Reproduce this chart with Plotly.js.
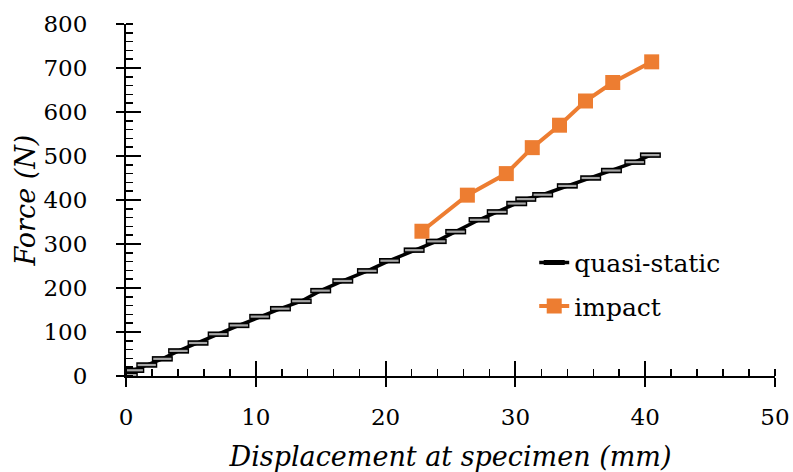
<!DOCTYPE html>
<html>
<head>
<meta charset="utf-8">
<script src="https://cdn.plot.ly/plotly-3.0.1.min.js"></script>
<style>html,body{margin:0;padding:0;background:#fff;}#chart{width:793px;height:472px;}</style>
</head>
<body>
<div id="chart"></div>
<script>
// Quasi-static test: displacement (mm) and force (N)
const quasiX = [0.1, 0.6, 1.6, 2.8, 4.05, 5.55, 7.1, 8.7, 10.3, 11.9, 13.5, 15.0, 16.7, 18.6, 20.3, 22.2, 23.9, 25.4, 27.2, 28.6, 30.1, 30.8, 32.1, 34.0, 35.8, 37.4, 39.2, 40.4];
const quasiY = [2, 13, 25, 39, 57, 75, 95, 115, 135, 153, 170, 194, 216, 239, 262, 286, 306, 328, 355, 373, 392, 402, 412, 432, 450, 467, 486, 502];
// Impact test
const impactX = [22.8, 26.3, 29.3, 31.3, 33.4, 35.4, 37.5, 40.5];
const impactY = [329, 411, 460, 519, 570, 625, 667, 714];

const xTicks = [0, 10, 20, 30, 40, 50];
const yTicks = [0, 100, 200, 300, 400, 500, 600, 700, 800];

const FONT = 'DejaVu Serif';

const traces = [
  {
    x: quasiX, y: quasiY, name: 'quasi-static', type: 'scatter', mode: 'lines+markers',
    line: {color: '#000000', width: 3.5},
    marker: {symbol: 'line-ew', size: 15, color: '#000000', line: {color: '#000000', width: 5.5}},
    legendgroup: 'a'
  },
  {
    x: quasiX, y: quasiY, name: 'quasi-static-fill', type: 'scatter', mode: 'markers',
    marker: {symbol: 'line-ew', size: 13, color: '#A6A6A6', line: {color: '#A6A6A6', width: 2.2}},
    showlegend: false, hoverinfo: 'skip'
  },
  {
    x: impactX, y: impactY, name: 'impact', type: 'scatter', mode: 'lines+markers',
    line: {color: '#ED7D31', width: 4},
    marker: {symbol: 'square', size: 15, color: '#ED7D31'},
    legendgroup: 'b'
  },
  // overlay axes for the inside half of crossing major ticks
  {x: [0], y: [0], xaxis: 'x2', yaxis: 'y2', mode: 'markers', marker: {opacity: 0}, showlegend: false, hoverinfo: 'skip'}
];

const layout = {
  width: 793, height: 472,
  margin: {l: 126, r: 18, t: 24, b: 96},
  paper_bgcolor: '#ffffff', plot_bgcolor: '#ffffff',
  font: {family: FONT, color: '#000000', size: 23},
  showlegend: true,
  legend: {x: 0.629, y: 0.387, xanchor: 'left', yanchor: 'top', bgcolor: 'rgba(0,0,0,0)',
           font: {family: FONT, size: 25, color: '#000'}, tracegroupgap: 8},
  xaxis: {
    range: [0, 50], tickvals: xTicks, ticktext: xTicks.map(String),
    showgrid: false, zeroline: false, showline: true, linecolor: '#000', linewidth: 2,
    ticks: 'outside', ticklen: 9, tickwidth: 2, tickcolor: '#000',
    ticklabelstandoff: 10,
    minor: {ticks: 'inside', dtick: 2, ticklen: 7, tickwidth: 1.5, tickcolor: '#000', showgrid: false},
    tickfont: {family: FONT, size: 23, color: '#000'},
    title: {text: '<i>Displacement at specimen (mm)</i>', font: {family: FONT, size: 27, color: '#000'}},
    automargin: false
  },
  yaxis: {
    range: [0, 800], tickvals: yTicks, ticktext: yTicks.map(String),
    showgrid: false, zeroline: false, showline: true, linecolor: '#000', linewidth: 2,
    ticks: 'outside', ticklen: 8, tickwidth: 2, tickcolor: '#000',
    ticklabelstandoff: 24,
    minor: {ticks: 'inside', dtick: 20, ticklen: 7, tickwidth: 1.5, tickcolor: '#000', showgrid: false},
    tickfont: {family: FONT, size: 23, color: '#000'},
    title: {text: '<i>Force (N)</i>', font: {family: FONT, size: 27, color: '#000'}},
    automargin: false
  },
  xaxis2: {
    overlaying: 'x', anchor: 'y2', matches: 'x', range: [0, 50], tickvals: xTicks,
    showticklabels: false, showgrid: false, zeroline: false, showline: false,
    ticks: 'inside', ticklen: 15, tickwidth: 2, tickcolor: '#000'
  },
  yaxis2: {
    overlaying: 'y', anchor: 'x2', matches: 'y', range: [0, 800], tickvals: yTicks,
    showticklabels: false, showgrid: false, zeroline: false, showline: false,
    ticks: 'inside', ticklen: 15, tickwidth: 2, tickcolor: '#000'
  }
};

Plotly.newPlot('chart', traces, layout, {displayModeBar: false, staticPlot: true});
</script>
</body>
</html>
